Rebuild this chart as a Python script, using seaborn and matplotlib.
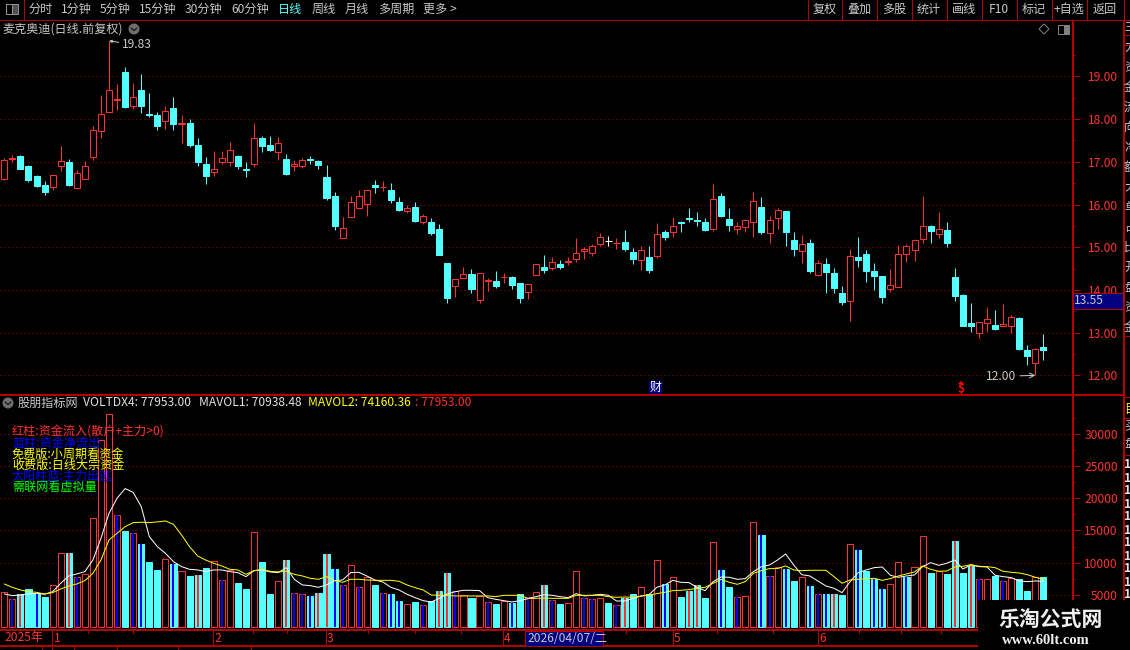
"""Daily candlestick chart with a volume pane, drawn like a trading terminal."""

import matplotlib.pyplot as plt
import numpy as np
import pandas as pd
import seaborn as sns
from matplotlib.patches import Circle, Polygon, Rectangle

# price data, one entry per trading day
opens = [
    16.59, 17.07, 17.13, 16.90, 16.66, 16.45, 16.41, 16.91, 16.99, 16.39,
    16.60, 17.12, 17.73, 18.17, 18.44, 19.10, 18.31, 18.68, 18.11, 18.09,
    17.95, 18.26, 17.88, 17.91, 17.39, 16.95, 16.77, 17.00, 17.00, 17.13,
    16.82, 16.95, 17.55, 17.39, 17.23, 17.06, 16.91, 16.91, 17.07, 17.02,
    16.64, 16.20, 15.22, 15.71, 15.92, 16.02, 16.45, 16.40, 16.33, 16.05,
    15.84, 15.94, 15.60, 15.59, 15.42, 14.63, 14.10, 14.29, 14.37, 13.77,
    14.20, 14.21, 14.30, 14.30, 14.16, 13.94, 14.36, 14.54, 14.52, 14.61,
    14.65, 14.73, 14.90, 14.87, 15.08, 15.15, 15.09, 15.12, 14.89, 14.70,
    14.77, 14.79, 15.35, 15.36, 15.59, 15.69, 15.63, 15.59, 15.43, 16.19,
    15.66, 15.42, 15.48, 15.58, 15.94, 15.34, 15.69, 15.84, 15.17, 14.90,
    15.10, 14.35, 14.61, 14.40, 13.93, 13.75, 14.77, 14.84, 14.44, 14.33,
    14.02, 14.08, 14.85, 14.93, 15.20, 15.49, 15.30, 15.40, 14.30, 13.88,
    13.23, 13.00, 13.23, 13.18, 13.16, 13.16, 13.35, 12.60, 12.30, 12.67,
]
closes = [
    17.05, 17.10, 16.84, 16.57, 16.44, 16.29, 16.68, 17.01, 16.45, 16.73,
    16.91, 17.74, 18.13, 18.67, 18.46, 18.29, 18.51, 18.30, 18.09, 17.84,
    18.18, 17.88, 17.90, 17.39, 16.99, 16.66, 16.84, 17.10, 17.27, 16.90,
    16.80, 17.55, 17.37, 17.27, 17.43, 16.71, 16.95, 17.05, 17.05, 16.92,
    16.15, 15.49, 15.44, 16.05, 16.19, 16.33, 16.42, 16.41, 16.10, 15.87,
    15.91, 15.61, 15.72, 15.33, 14.82, 13.81, 14.25, 14.37, 14.02, 14.39,
    14.23, 14.09, 14.31, 14.12, 13.81, 14.13, 14.60, 14.47, 14.65, 14.54,
    14.68, 14.86, 14.95, 15.02, 15.23, 15.15, 15.11, 14.96, 14.72, 14.93,
    14.47, 15.32, 15.24, 15.49, 15.57, 15.67, 15.62, 15.40, 16.14, 15.73,
    15.52, 15.49, 15.63, 16.09, 15.35, 15.63, 15.86, 15.35, 14.96, 15.08,
    14.44, 14.62, 14.42, 14.05, 13.72, 14.79, 14.70, 14.44, 14.33, 13.83,
    14.11, 14.85, 15.02, 15.16, 15.49, 15.38, 15.42, 15.10, 13.86, 13.16,
    13.16, 13.24, 13.31, 13.09, 13.20, 13.37, 12.62, 12.46, 12.62, 12.60,
]
highs = [
    17.08, 17.17, 17.16, 16.93, 16.69, 16.54, 16.68, 17.37, 17.06, 16.81,
    17.01, 17.84, 18.56, 19.83, 18.82, 19.22, 18.84, 19.05, 18.61, 18.16,
    18.30, 18.52, 18.09, 18.00, 17.55, 17.11, 17.25, 17.25, 17.46, 17.16,
    16.99, 17.91, 17.60, 17.60, 17.58, 17.18, 17.04, 17.08, 17.13, 17.04,
    16.92, 16.29, 15.70, 16.20, 16.34, 16.33, 16.57, 16.54, 16.50, 16.17,
    15.98, 16.05, 15.77, 15.68, 15.54, 14.63, 14.25, 14.54, 14.49, 14.39,
    14.28, 14.44, 14.40, 14.33, 14.16, 14.13, 14.60, 14.82, 14.77, 14.70,
    14.77, 15.21, 15.00, 15.07, 15.33, 15.26, 15.21, 15.40, 14.98, 15.03,
    15.03, 15.56, 15.40, 15.70, 15.61, 15.91, 15.82, 15.68, 16.47, 16.26,
    15.91, 15.59, 15.65, 16.29, 16.17, 15.73, 15.91, 15.84, 15.35, 15.28,
    15.19, 14.70, 14.75, 14.51, 14.09, 14.96, 15.24, 14.93, 14.63, 14.33,
    14.49, 15.05, 15.07, 15.19, 16.19, 15.52, 15.82, 15.59, 14.51, 13.91,
    13.70, 13.25, 13.60, 13.53, 13.67, 13.42, 13.37, 12.72, 12.65, 12.97,
]
lows = [
    16.57, 17.00, 16.83, 16.52, 16.41, 16.22, 16.34, 16.78, 16.43, 16.36,
    16.60, 17.04, 17.56, 18.17, 18.21, 18.27, 18.23, 18.14, 18.05, 17.74,
    17.77, 17.74, 17.43, 17.34, 16.90, 16.48, 16.66, 16.95, 16.90, 16.83,
    16.64, 16.88, 17.23, 17.25, 17.04, 16.69, 16.78, 16.86, 16.95, 16.83,
    16.10, 15.40, 15.22, 15.71, 15.89, 15.73, 16.26, 16.31, 16.03, 15.84,
    15.80, 15.59, 15.54, 15.28, 14.82, 13.70, 13.84, 14.28, 13.93, 13.70,
    13.98, 14.05, 14.16, 14.02, 13.70, 13.79, 14.36, 14.40, 14.47, 14.49,
    14.58, 14.65, 14.72, 14.79, 15.03, 15.03, 14.96, 14.91, 14.61, 14.47,
    14.40, 14.75, 15.17, 15.24, 15.35, 15.59, 15.49, 15.38, 15.38, 15.70,
    15.38, 15.31, 15.35, 15.24, 15.31, 15.10, 15.42, 15.03, 14.79, 14.63,
    14.40, 14.33, 13.93, 13.93, 13.65, 13.27, 14.54, 14.19, 14.00, 13.70,
    13.95, 14.08, 14.65, 14.67, 15.10, 15.10, 15.21, 15.00, 13.74, 13.16,
    13.02, 12.87, 13.02, 13.06, 13.16, 13.00, 12.60, 12.24, 12.00, 12.36,
]

# volume pane: bar value, bar type (r = hollow red, c = cyan), centre stripe
volumes = [
    5390, 4300, 5080, 5850, 5230, 4660, 6480, 11450, 11450, 7720,
    8180, 16900, 29000, 33100, 17350, 14900, 14550, 12900, 10100, 8860,
    10500, 9800, 8650, 7930, 8080, 9170, 10200, 7250, 8860, 6840,
    5900, 14700, 10100, 5130, 7100, 10400, 5230, 5080, 4820, 5280,
    11340, 9010, 6480, 9580, 6160, 7720, 6530, 5230, 5130, 4040,
    3520, 3890, 3370, 4040, 5600, 8390, 5540, 4970, 4500, 4820,
    3890, 3580, 4040, 3730, 5130, 4610, 5440, 6530, 4200, 3580,
    3730, 8700, 4500, 4350, 4500, 3730, 3420, 4500, 5130, 6220,
    5130, 10400, 6680, 7770, 4660, 5600, 6530, 4500, 13200, 8860,
    6220, 4660, 4820, 16300, 14300, 7930, 9320, 9010, 7150, 7770,
    6370, 5130, 5130, 5130, 4970, 12900, 11970, 8700, 7460, 5900,
    6680, 10100, 7770, 9320, 14140, 8390, 8700, 8240, 13360, 8390,
    9480, 7400, 7400, 7930, 7150, 7670, 7400, 5600, 7770, 7795,
]
volume_kinds = list(
    "rrccccrrcr" "rrrrrcrccc" "rcrcccrrrc" "crccrcrrcc" "ccrrrrcrcc"
    "rcrcccrrcr" "rcrccrrcrc" "rrrrrcrccr" "crcrccccrc" "crrrcrrccr"
    "crcccrcccc" "rrcrrcrccc" "crrcrrccrc"
)
volume_stripes = list(
    ".br.b...rb" "....b.bb.." ".b..r..b.." ".....rbbbr" "rbb.b..bbb"
    "..b.rrb..." "b..b.b.rb." "..bb..br.." "..b..rr..b" ".b..bb.b.."
    "bbbr..b.bb" "..b.....r." "rb..b....."
)
mavol1 = [
    5130, 4870, 4970, 5130, 5230, 5080, 5490, 6790, 7925, 8240,
    8600, 10400, 13780, 17660, 20000, 21500, 20900, 18700, 14040, 12480,
    11450, 10150, 9380, 8960, 8860, 8600, 8860, 8860, 8600, 8440,
    7820, 8750, 8860, 8550, 8440, 9220, 7410, 6530, 6420, 6160,
    6530, 7200, 7300, 8440, 8500, 7925, 7300, 6990, 6160, 5750,
    5080, 4560, 4090, 3885, 4450, 5130, 5490, 5700, 5700, 5650,
    4560, 4300, 4090, 3885, 4090, 4400, 4710, 5020, 4920, 4710,
    4560, 5180, 4820, 4920, 5080, 4920, 4040, 4040, 4400, 4820,
    4970, 6160, 6530, 7250, 6940, 6890, 6160, 5650, 7040, 7770,
    7720, 7410, 7510, 8600, 9380, 9630, 10410, 11340, 9630, 8130,
    7925, 7150, 6370, 6010, 5340, 7040, 8440, 8860, 9220, 9320,
    8030, 7720, 7925, 8080, 9380, 10000, 9580, 9900, 10410, 9010,
    9630, 9380, 9320, 8030, 7820, 7670, 7150, 7040, 7150, 7094,
]
mavol2 = [
    6680, 6160, 5750, 5490, 5390, 5130, 5340, 5900, 6370, 6680,
    7200, 8340, 10400, 13520, 14560, 15590, 16210, 16270, 16210, 16320,
    16470, 15950, 14300, 12480, 11030, 10400, 9890, 9480, 8960, 8860,
    8180, 8750, 8960, 8650, 8550, 8650, 8180, 7925, 7560, 7410,
    7820, 7200, 6940, 7410, 7410, 7300, 7250, 7250, 7250, 7100,
    6530, 6110, 5750, 4970, 4920, 4920, 4820, 4820, 4820, 4820,
    4820, 4710, 4920, 4920, 4920, 4450, 4450, 4500, 4450, 4450,
    4450, 4920, 4920, 4920, 4920, 4710, 4610, 4660, 4610, 4770,
    4970, 5180, 5390, 5650, 5700, 5800, 6010, 6160, 6790, 7410,
    6940, 6630, 7040, 8340, 8750, 9070, 9070, 9480, 8860, 8750,
    8810, 8810, 8810, 7820, 6790, 7300, 7410, 7510, 7560, 7250,
    7510, 7925, 8240, 8550, 9480, 8960, 8650, 8700, 9320, 9430,
    9690, 9430, 9380, 9220, 8650, 8500, 8390, 8130, 7720, 7416,
]

# axis ticks and labels
price_ticks = [12, 13, 14, 15, 16, 17, 18, 19]
price_minor = [12.5, 13.5, 14.5, 15.5, 16.5, 17.5, 18.5, 19.5]
volume_ticks = [5000, 10000, 15000, 20000, 25000, 30000]
volume_minor = [2500, 7500, 12500, 17500, 22500, 27500, 32500]
last_price = "13.55"
month_labels = ["1", "2", "3", "4", "5", "6"]
tabs_left = ["分时", "1分钟", "5分钟", "15分钟", "30分钟", "60分钟", "日线", "周线", "月线", "多周期", "更多 >"]
tabs_right = ["复权", "叠加", "多股", "统计", "画线", "F10", "标记", "+自选", "返回"]
legend_lines = [
    "红柱:资金流入(散户+主力>0)",
    "蓝柱:资金净流出",
    "免费版:小周期看资金",
    "收费版:日线大宗资金",
    "太阳柱蓝:主力出逃",
    "需联网看虚拟量",
]
side_text = ["主", "力", "资", "金", "流", "向", "净", "额", "大", "单", "占", "比", "开", "盘", "资", "金"]
side_numbers = ["1", "1", "1", "1", "1", "1", "1", "1", "1", "1", "1"]

WIDTH, HEIGHT = 1130, 650
RED = "#ff3232"
CYAN = "#54ffff"
BLUE = "#0000ff"
AXIS_RED = "#b40000"
GRID_RED = "#a00000"
GRAY = "#c8c8c8"
NAVY = "#000080"
PIXEL = 0.72  # one pixel in points at dpi 100

sns.set_theme(style="dark", rc={"figure.facecolor": "black", "axes.facecolor": "black", "savefig.facecolor": "black"})
plt.rcParams["font.family"] = ["Noto Sans CJK SC", "DejaVu Sans"]
plt.rcParams["font.size"] = 8.7


def pane(left, top, right, bottom):
    """Add axes given in image pixels."""
    return fig.add_axes([left / WIDTH, 1 - bottom / HEIGHT, (right - left) / WIDTH, (bottom - top) / HEIGHT])


def style_pane(ax, major, minor, labels):
    """Dotted grid, right hand ticks and red labels shared by both panes."""
    for spine in ax.spines.values():
        spine.set_visible(False)
    ax.set_xticks([])
    ax.set_xlabel("")
    ax.set_ylabel("")
    ax.yaxis.tick_right()
    ax.set_yticks(major, labels=labels, ha="right")
    ax.set_yticks(minor, minor=True)
    ax.tick_params(axis="y", which="major", length=5.8, width=PIXEL, color=AXIS_RED,
                   labelcolor=RED, labelsize=8.7, pad=27.3, right=True)
    ax.tick_params(axis="y", which="minor", length=2.4, width=PIXEL, color=AXIS_RED, right=True)
    ax.hlines(major, *ax.get_xlim(), colors=GRID_RED, linewidth=PIXEL, linestyles=(0, (1, 3)), zorder=0.5)


fig = plt.figure(figsize=(WIDTH / 100, HEIGHT / 100), dpi=100)
ax_price = pane(0, 20, 1072, 395)
ax_volume = pane(0, 395, 1072, 630)
x_range = (-0.534, 132.55)

# candles
days = np.arange(len(opens))
candles = pd.DataFrame({"day": days, "open": opens, "high": highs, "low": lows, "close": closes})
candles["body"] = candles["close"] - candles["open"]
rising = candles[candles["body"] > 0]
falling = candles[candles["body"] < 0]
flat = candles[candles["body"] == 0]
ax_price.set_xlim(*x_range)
ax_price.set_ylim(11.54, 20.32)
for subset, color in ((rising, RED), (falling, CYAN), (flat, "white")):
    ax_price.vlines(subset["day"], subset["low"], subset["high"], colors=color, linewidth=PIXEL,
                    snap=True, zorder=2)
ax_price.bar(rising["day"], rising["body"], bottom=rising["open"], width=0.75, facecolor="black",
             edgecolor=RED, linewidth=PIXEL, snap=True, zorder=3)
ax_price.bar(falling["day"], falling["body"], bottom=falling["open"], width=0.75, facecolor=CYAN,
             edgecolor=CYAN, linewidth=PIXEL, snap=True, zorder=3)
ax_price.hlines(flat["open"], flat["day"] - 0.4, flat["day"] + 0.4, colors="white", linewidth=PIXEL,
                snap=True, zorder=3)
style_pane(ax_price, price_ticks, price_minor, [f"{t:.2f}" for t in price_ticks])
ax_price.set_ylim(11.54, 20.32)

# extreme price notes
top_day = int(np.argmax(highs))
low_day = int(np.argmin(lows))
ax_price.annotate(f"{highs[top_day]:.2f}", xy=(top_day, highs[top_day]), xytext=(13, -4),
                  textcoords="offset pixels", color=GRAY, va="center", fontsize=8.7,
                  arrowprops={"arrowstyle": "->,head_length=0.2,head_width=0.1", "color": GRAY,
                              "linewidth": PIXEL, "shrinkA": 0, "shrinkB": 0})
ax_price.annotate(f"{lows[low_day]:.2f}", xy=(low_day, lows[low_day]), xytext=(-49, -1),
                  textcoords="offset pixels", color=GRAY, va="center", ha="left", fontsize=8.7,
                  arrowprops={"arrowstyle": "->", "color": GRAY, "linewidth": PIXEL, "shrinkA": 0, "shrinkB": 0})

# volume bars and their moving averages
volume_df = pd.DataFrame({"day": days, "volume": volumes, "kind": volume_kinds, "stripe": volume_stripes})
sns.barplot(data=volume_df, x="day", y="volume", hue="kind", palette={"r": "black", "c": CYAN}, dodge=False,
            native_scale=True, width=0.76, saturation=1, errorbar=None, legend=False, ax=ax_volume, zorder=2)
for patch in ax_volume.patches:
    is_hollow = patch.get_facecolor()[:3] == (0.0, 0.0, 0.0)
    patch.set_edgecolor(RED if is_hollow else CYAN)
    patch.set_linewidth(PIXEL)
    patch.set_snap(True)
for code, color in (("b", BLUE), ("r", RED)):
    stripes = volume_df[volume_df["stripe"] == code]
    ax_volume.vlines(stripes["day"], 0, stripes["volume"], colors=color, linewidth=PIXEL * 2,
                     snap=True, zorder=3)
sns.lineplot(x=days, y=mavol1, color="white", linewidth=PIXEL, errorbar=None, ax=ax_volume, zorder=4)
sns.lineplot(x=days, y=mavol2, color="#ffff00", linewidth=PIXEL, errorbar=None, ax=ax_volume, zorder=5)
ax_volume.set_xlim(*x_range)
ax_volume.set_ylim(-466, 36030)
style_pane(ax_volume, volume_ticks, volume_minor, [str(t) for t in volume_ticks])
ax_volume.set_xlim(*x_range)
ax_volume.set_ylim(-466, 36030)

# terminal frame on top of everything, in image pixels
frame = fig.add_axes([0, 0, 1, 1], zorder=5)
frame.set_xlim(0, WIDTH)
frame.set_ylim(HEIGHT, 0)
frame.axis("off")
frame.patch.set_alpha(0)


def label(x, y, text, color=GRAY, ha="left", size=8.7, **kwargs):
    return frame.text(x, y, text, color=color, ha=ha, va="center", fontsize=size, **kwargs)


def rule(x0, y0, x1, y1, width=1.0, color=AXIS_RED):
    frame.plot([x0, x1], [y0, y1], color=color, linewidth=PIXEL * width, antialiased=False, solid_capstyle="butt")


# toolbar
rule(0, 19.5, WIDTH, 19.5)
rule(23.5, 0, 23.5, 19.5)
frame.add_patch(Rectangle((5.5, 3.5), 12, 10, facecolor="#505050", edgecolor="#909090", linewidth=PIXEL))
frame.add_patch(Rectangle((5.5, 3.5), 6, 10, facecolor="black", edgecolor="#909090", linewidth=PIXEL))
tab_x = [28, 61, 100, 139, 185, 231, 278, 312, 345, 378, 423]
for x, text in zip(tab_x, tabs_left):
    label(x, 9.5, text, color=CYAN if text == "日线" else GRAY)
tab_edges = [807, 841, 876, 911, 946, 981, 1016, 1051, 1086, 1123]
for x in tab_edges:
    rule(x + 0.5, 0, x + 0.5, 19.5)
for x0, x1, text in zip(tab_edges, tab_edges[1:], tabs_right):
    label((x0 + x1) / 2 + 0.5, 9.5, text, ha="center")

# price pane header
label(2, 29, "麦克奥迪(日线.前复权)")
frame.add_patch(Circle((134, 29), 5.5, facecolor="#6e6e6e", edgecolor="none"))
frame.plot([131, 134, 137], [28, 30.5, 28], color="black", linewidth=PIXEL)
frame.add_patch(Polygon([(1044, 24), (1049, 29), (1044, 34), (1039, 29)], facecolor="none", edgecolor="#808080", linewidth=PIXEL))
frame.add_patch(Rectangle((1058, 25), 11, 9, facecolor="none", edgecolor="#808080", linewidth=PIXEL))
frame.add_patch(Rectangle((1064, 25), 5, 9, facecolor="#808080", edgecolor="none"))

# pane borders
rule(0, 395, 1123, 395, 2)
rule(0, 630, 1123, 630, 2)
rule(0, 646, 1123, 646, 2)
rule(1072.5, 20, 1072.5, 646, 2)
rule(1123.5, 20, 1123.5, 650, 1.5)
for y in (35, 45, 336, 397, 418, 455):
    rule(1123, y, WIDTH, y)

# last price box
frame.add_patch(Rectangle((1073, 293), 50, 16, facecolor=NAVY, edgecolor=AXIS_RED, linewidth=PIXEL, zorder=6))
label(1074, 301, last_price, zorder=7)

# event marks in the price pane
frame.add_patch(Rectangle((649, 381), 13, 13, facecolor=NAVY, edgecolor="none"))
label(655.5, 387, "财", color="white", ha="center")
frame.add_patch(Polygon([(961, 381), (964, 384), (958, 384)], facecolor="#ff0000", edgecolor="none"))
label(961, 389, "$", color="#ff0000", ha="center", fontweight="bold")

# volume pane header
frame.add_patch(Circle((8, 403), 5.5, facecolor="#6e6e6e", edgecolor="none"))
frame.plot([5, 8, 11], [402, 404.5, 402], color="black", linewidth=PIXEL)
label(18, 403, "股朋指标网")
label(83, 403, f"VOLTDX4: {77953:.2f}", color="#e0e0e0")
label(199, 403, f"MAVOL1: {70938.48:.2f}", color="#e0e0e0")
label(308, 403, f"MAVOL2: {74160.36:.2f}", color="#ffff00")
label(415, 403, f": {77953:.2f}", color=RED)

# coloured notes over the bars
note_colors = [RED, BLUE, "#ffff00", "#ffff00", BLUE, "#00ff00"]
for row, (text, color) in enumerate(zip(legend_lines, note_colors)):
    label(12, 432 + row * 11, text, color=color)

# date strip
for x in (51, 212, 325, 502, 672, 817):
    rule(x + 0.5, 630, x + 0.5, 646)
for x in (87, 132, 252, 286, 367, 414, 460, 625, 716, 772, 858, 900, 940):
    rule(x + 0.5, 630, x + 0.5, 633)
label(4, 638, "2025年", color=RED)
for x, text in zip((54, 214, 327, 504, 674, 819), month_labels):
    label(x, 638, text, color=RED)
frame.add_patch(Rectangle((525, 631), 78, 14.5, facecolor=NAVY, edgecolor=AXIS_RED, linewidth=PIXEL, zorder=6))
label(527, 638, "2026/04/07/二", zorder=7)
for x in (41, 51, 73, 116, 177, 250):
    rule(x + 0.5, 646, x + 0.5, 650)

# clipped side panel beyond the right axis
for row, text in enumerate(side_text):
    y = 27 + row * 20
    label(1124, y, text, clip_on=True)
label(1124, 409, "目", color="#ffff00", clip_on=True)
label(1124, 426, "买", clip_on=True)
label(1124, 443, "盘", clip_on=True)
for row, text in enumerate(side_numbers):
    label(1124, 465 + row * 13, text, color="#e0e0e0", clip_on=True, fontweight="bold")

# watermark
frame.add_patch(Rectangle((977.5, 600), WIDTH - 977.5, 50, facecolor="black", edgecolor="none", zorder=8))
frame.text(1051, 619, "乐淘公式网", color="#f0f0f0", ha="center", va="center", fontsize=15, fontweight="bold", zorder=9,
           family=["Noto Sans CJK SC", "DejaVu Sans"])
frame.text(1046, 640, "www.60lt.com", color="#f0f0f0", ha="center", va="center", fontsize=10.5, fontweight="bold",
           zorder=9, family=["Liberation Serif"])

fig.savefig("out.png", dpi=100)
plt.close(fig)
